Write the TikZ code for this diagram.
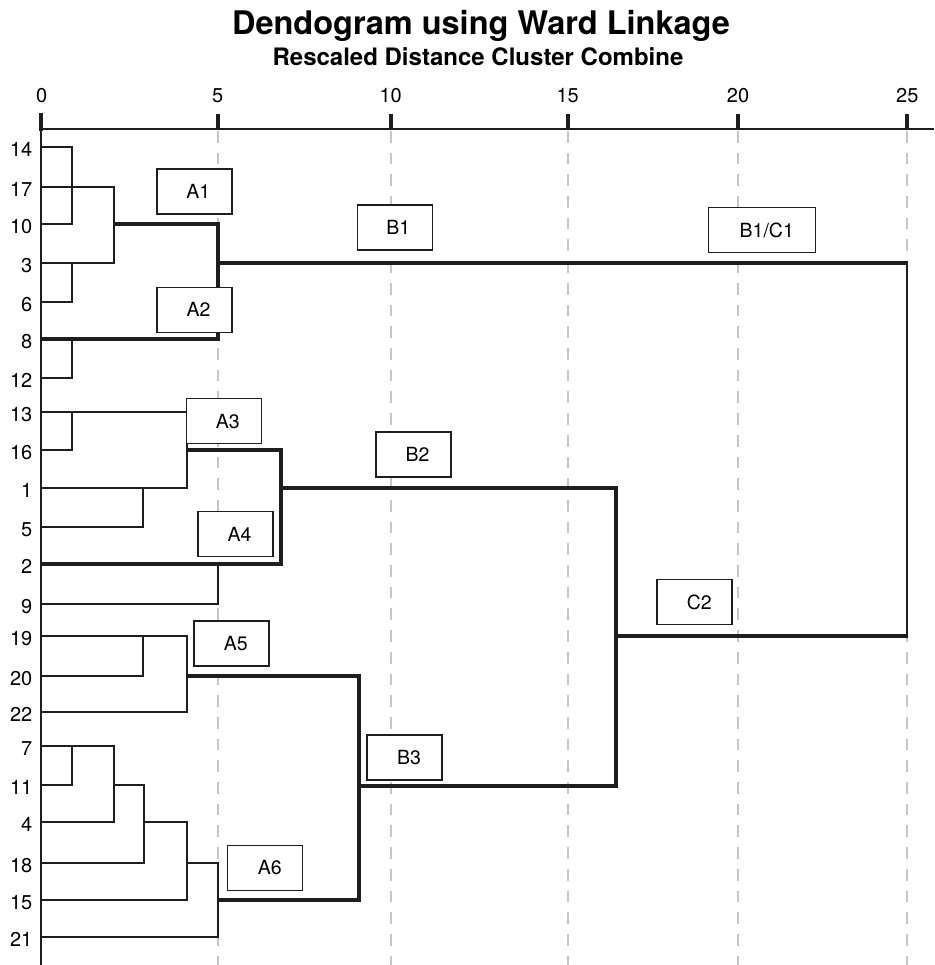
\documentclass[tikz,border=0pt]{standalone}
\usepackage{fontspec}
\setmainfont{TeX Gyre Heros}
\definecolor{ink}{RGB}{30,30,30}
\begin{document}
\begin{tikzpicture}[x=1pt,y=-1pt,
  thinln/.style={line width=2.1pt,draw=ink,line join=miter},
  thickln/.style={line width=3.9pt,draw=ink,line join=miter},
  gridln/.style={line width=2.3pt,draw=black!22,dash pattern=on 11.7pt off 10pt},
  tickln/.style={line width=4pt,draw=ink},
  lbox/.style={draw=ink,line width=1.5pt,fill=white,minimum width=75pt,minimum height=45pt,inner sep=0pt,font=\fontsize{19.5}{20}\selectfont},
  rowlab/.style={anchor=east,inner sep=0pt,font=\fontsize{20}{20}\selectfont},
  axlab/.style={anchor=base,inner sep=0pt,font=\fontsize{20}{20}\selectfont}]
\useasboundingbox[fill=white] (0,0) rectangle (934,965);
% titles
\node[anchor=base,inner sep=0pt,font=\bfseries\fontsize{32.5}{33}\selectfont] (title) at (481,34.3) {Dendogram using Ward Linkage};
\node[anchor=base,inner sep=0pt,font=\bfseries\fontsize{24}{24}\selectfont] (subtitle) at (478,66) {Rescaled Distance Cluster Combine};
% grid
\foreach \gx in {217.7,390.7,567.7,738,907.3} \draw[gridln] (\gx,131) -- (\gx,965);
% axis
\draw[line width=2pt,draw=ink] (41,129.3) -- (934,129.3);
\draw[line width=1.6pt,draw=ink] (41,113) -- (41,965);
\draw[tickln] (41,113) -- (41,131);
\foreach \gx in {217.7,390.7,567.7,738,907.3} \draw[tickln] (\gx,114.5) -- (\gx,129.3);
\node[axlab] (t0) at (41.7,102.7) {0};
\node[axlab] (t5) at (217.7,102.7) {5};
\node[axlab] (t10) at (390.7,102.7) {10};
\node[axlab] (t15) at (567.7,102.7) {15};
\node[axlab] (t20) at (738,102.7) {20};
\node[axlab] (t25) at (907.3,102.7) {25};
% row labels
\foreach \lab/\yy in {14/147.3,17/186.7,10/224.3,3/262.7,6/302.3,8/339.3,12/378.3,13/411.7,16/450,1/488.3,5/527.3,2/564.3,9/604.3,19/635.7,20/675.7,22/712.3,7/746,11/785,4/822.3,18/862.7,15/900,21/937.3}
  \node[rowlab] (r\lab) at (32.5,\yy+2.5) {\lab};
% cluster A1/A2
\draw[thinln] (41,147.3) -| (71.7,224.3) -- (41,224.3);
\draw[thinln] (41,186.7) -| (114.3,262.7) -- (41,262.7);
\draw[thinln] (71.7,262.7) -- (71.7,302.3) -- (41,302.3);
\draw[thinln] (71.7,339.3) -- (71.7,378.3) -- (41,378.3);
\draw[thickln] (114.3,224.3) -| (217.7,339.3) -- (40,339.3);
% cluster A3/A4
\draw[thinln] (41,411.7) -| (186.7,488.3) -- (41,488.3);
\draw[thinln] (71.7,411.7) -- (71.7,450) -- (41,450);
\draw[thinln] (143.3,488.3) -- (143.3,527.3) -- (41,527.3);
\draw[thickln] (186.7,450) -| (281,564.3) -- (40,564.3);
\draw[thinln] (217.7,564.3) -- (217.7,604.3) -- (41,604.3);
% cluster A5
\draw[thinln] (41,635.7) -| (186.7,712.3) -- (41,712.3);
\draw[thinln] (143.3,635.7) -- (143.3,675.7) -- (41,675.7);
% cluster A6
\draw[thinln] (41,746) -| (114.3,822.3) -- (41,822.3);
\draw[thinln] (71.7,746) -- (71.7,785) -- (41,785);
\draw[thinln] (114.3,785) -| (144.3,862.7) -- (41,862.7);
\draw[thinln] (144.3,822.3) -| (186.7,900) -- (41,900);
\draw[thinln] (186.7,862.7) -| (218.3,937.3) -- (41,937.3);
% higher levels
\draw[thickln] (186.7,675.7) -| (359,900) -- (218.3,900);
\draw[thickln] (281,488.3) -| (615.7,786) -- (359,786);
\draw[thickln] (217.7,262.7) -- (907,262.7);
\draw[line width=2.6pt,draw=ink] (907,261) -- (907,637.6);
\draw[thickln] (615.7,636) -- (908.3,636);
% boxes
\node[lbox] (A1) at (194.3,191.7) {\hspace*{8pt}A1};
\node[lbox] (A2) at (194.5,309.8) {\hspace*{8pt}A2};
\node[lbox] (A3) at (223.8,421.2) {\hspace*{8pt}A3};
\node[lbox] (A4) at (235.5,534.2) {\hspace*{8pt}A4};
\node[lbox] (A5) at (231.7,643.7) {\hspace*{8pt}A5};
\node[lbox] (A6) at (265.2,867.8) {\hspace*{9pt}A6};
\node[lbox] (B1) at (395.2,227.7) {\hspace*{6pt}B1};
\node[lbox,minimum width=107pt] (B1C1) at (761.8,230) {\hspace*{10pt}B1/C1};
\node[lbox] (B2) at (413.6,454.7) {\hspace*{8pt}B2};
\node[lbox] (C2) at (694.3,602) {\hspace*{10pt}C2};
\node[lbox] (B3) at (404.5,757.5) {\hspace*{9pt}B3};
\end{tikzpicture}
\end{document}
